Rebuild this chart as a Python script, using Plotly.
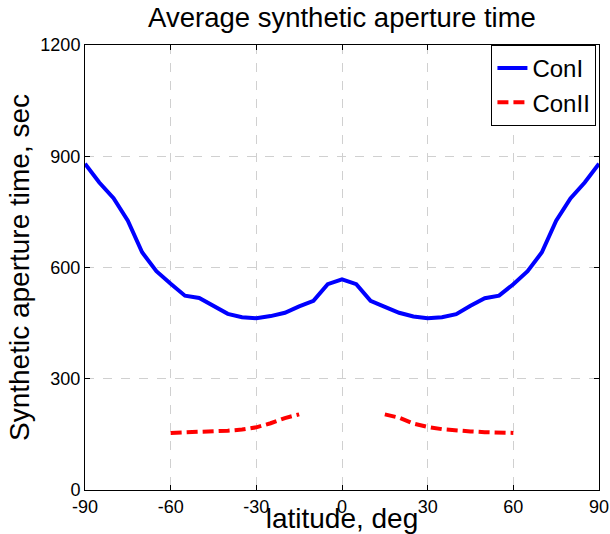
import plotly.graph_objects as go

lat = [-90, -85, -80, -75, -70, -65, -60, -55, -50, -45, -40, -35, -30, -25, -20, -15, -10, -5,
       0, 5, 10, 15, 20, 25, 30, 35, 40, 45, 50, 55, 60, 65, 70, 75, 80, 85, 90]
con1 = [880, 829, 787, 726, 641, 590, 556, 524, 518, 496, 475, 466, 463, 469, 478, 495, 510, 555,
        568, 555, 510, 494, 478, 468, 463, 466, 474, 497, 517, 524, 555, 590, 641, 726, 786, 829, 880]

lat2_left = [-60, -55, -50, -45, -40, -35, -30, -25, -20, -15]
con2_left = [154, 155, 156, 158, 160, 163, 169, 180, 194, 204]
lat2_right = [15, 20, 25, 30, 35, 40, 45, 50, 55, 60]
con2_right = [204, 195, 179, 170, 164, 160, 158, 156, 155, 154]

xticks = [-90, -60, -30, 0, 30, 60, 90]
yticks = [0, 300, 600, 900, 1200]

font = "Liberation Sans, Arial, sans-serif"

fig = go.Figure()
fig.add_trace(go.Scatter(x=lat, y=con1, mode="lines", name="ConI",
                         line=dict(color="#0000ff", width=4)))
fig.add_trace(go.Scatter(x=lat2_left + [None] + lat2_right,
                         y=con2_left + [None] + con2_right,
                         mode="lines", name="ConII", connectgaps=False,
                         line=dict(color="#ff0000", width=4, dash="11px,5px")))

axis_common = dict(showline=True, linecolor="black", linewidth=1, mirror="ticks",
                   ticks="inside", ticklen=5, tickcolor="black",
                   showgrid=True, gridcolor="#d0d0d0", griddash="dash", gridwidth=1,
                   zeroline=False, automargin=False,
                   tickfont=dict(family=font, size=18, color="black"))

fig.update_xaxes(range=[-90, 90], tickvals=xticks, ticktext=[str(v) for v in xticks],
                 title=dict(text="latitude, deg", font=dict(family=font, size=28, color="black"),
                            standoff=0),
                 ticklabelstandoff=0, **axis_common)
fig.update_yaxes(range=[0, 1200], tickvals=yticks, ticktext=[str(v) for v in yticks],
                 title=dict(text="Synthetic aperture time, sec",
                            font=dict(family=font, size=28, color="black"), standoff=2),
                 **axis_common)

fig.update_layout(
    width=610, height=534,
    margin=dict(l=85, r=11, t=45, b=44),
    paper_bgcolor="white", plot_bgcolor="white",
    title=dict(text="Average synthetic aperture time", x=0.5, xanchor="center",
               xref="paper", y=0.967, yanchor="middle",
               font=dict(family=font, size=27.5, color="black")),
    legend=dict(x=0.995, xanchor="right", y=1.0, yanchor="top",
                bordercolor="black", borderwidth=1, bgcolor="white",
                font=dict(family=font, size=24, color="black"),
                tracegroupgap=0, itemwidth=30),
    showlegend=True,
)

fig.write_html("out.html")
